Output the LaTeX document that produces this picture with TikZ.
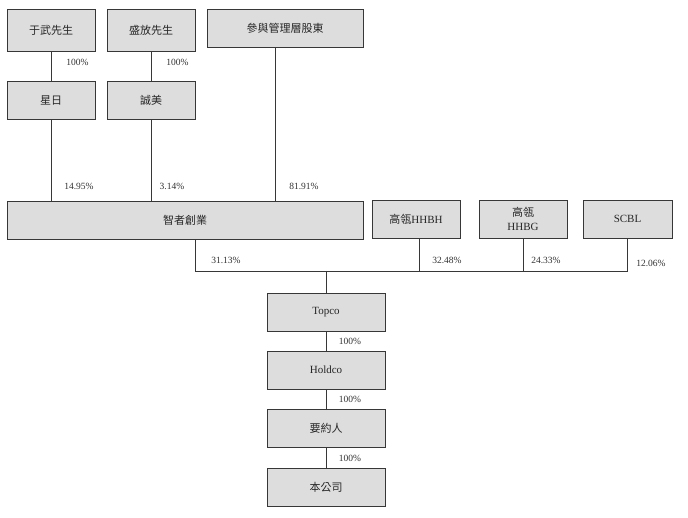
\documentclass[tikz,border=0pt]{standalone}
\usepackage{fontspec}
\setmainfont{Liberation Serif}
\newfontfamily\cjk{Noto Sans CJK TC}
\definecolor{boxfill}{RGB}{221,221,221}
\definecolor{edge}{RGB}{55,55,55}
\begin{document}
\begin{tikzpicture}[x=1pt,y=-1pt,
  box/.style={draw=edge, line width=0.9pt, fill=boxfill, inner sep=1pt, align=center,
    font=\fontsize{11}{12}\selectfont, text=black!85},
  pct/.style={font=\fontsize{9.5}{10}\selectfont, text=black!80, inner sep=0pt},
  link/.style={draw=edge, line width=0.9pt}]
\useasboundingbox[fill=white] (0,0) rectangle (688,518);
% top row
\node[box, minimum width=88pt, minimum height=42pt] (yu) at (51,30) {\cjk 于武先生};
\node[box, minimum width=88pt, minimum height=42pt] (sheng) at (151,30) {\cjk 盛放先生};
\node[box, minimum width=156pt, minimum height=38pt] (mgmt) at (285,28) {\cjk 參與管理層股東};
% second row
\node[box, minimum width=88pt, minimum height=38pt] (xing) at (51,100) {\cjk 星日};
\node[box, minimum width=88pt, minimum height=38pt] (cheng) at (151,100) {\cjk 誠美};
% third row
\node[box, minimum width=356pt, minimum height=38pt] (zhizhe) at (185,220) {\cjk 智者創業};
\node[box, minimum width=88pt, minimum height=38pt] (hhbh) at (416,219) {{\cjk 高瓴}HHBH};
\node[box, minimum width=88pt, minimum height=38pt, font=\fontsize{11}{14}\selectfont] (hhbg) at (523,219) {{\cjk 高瓴}\\HHBG};
\node[box, minimum width=89pt, minimum height=38pt] (scbl) at (627.5,219) {SCBL};
% chain
\node[box, minimum width=118pt, minimum height=38pt] (topco) at (326,312) {Topco};
\node[box, minimum width=118pt, minimum height=38pt] (holdco) at (326,370) {Holdco};
\node[box, minimum width=118pt, minimum height=38pt] (offeror) at (326,428.5) {\cjk 要約人};
\node[box, minimum width=118pt, minimum height=38pt] (company) at (326,487.5) {\cjk 本公司};
% connectors
\draw[link] (yu) -- (xing);
\draw[link] (sheng) -- (cheng);
\draw[link] (xing.south) -- (xing.south |- zhizhe.north);
\draw[link] (cheng.south) -- (cheng.south |- zhizhe.north);
\draw[link] ([xshift=-10pt]mgmt.south) -- ([xshift=-10pt]mgmt.south |- zhizhe.north);
\coordinate (busL) at (195,271);
\coordinate (busR) at (627,271);
\draw[link] ([xshift=10pt]zhizhe.south) -- (busL) -- (busR) -- (busR |- scbl.south);
\draw[link] ([xshift=3pt]hhbh.south) -- ([xshift=3pt]hhbh.south |- busL);
\draw[link] (hhbg.south) -- (hhbg.south |- busL);
\draw[link] (topco.north |- busL) -- (topco.north);
\draw[link] (topco) -- (holdco);
\draw[link] (holdco) -- (offeror);
\draw[link] (offeror) -- (company);
% labels
\node[pct] (p1) at (77.5,62) {100\%};
\node[pct] (p2) at (177.5,62) {100\%};
\node[pct] (p3) at (79,186) {14.95\%};
\node[pct] (p4) at (172,186) {3.14\%};
\node[pct] (p5) at (304,186) {81.91\%};
\node[pct] (p6) at (226,260.5) {31.13\%};
\node[pct] (p7) at (447,260.5) {32.48\%};
\node[pct] (p8) at (546,260.5) {24.33\%};
\node[pct] (p9) at (651,263) {12.06\%};
\node[pct] (p10) at (350,341) {100\%};
\node[pct] (p11) at (350,399.5) {100\%};
\node[pct] (p12) at (350,458) {100\%};
\end{tikzpicture}
\end{document}
